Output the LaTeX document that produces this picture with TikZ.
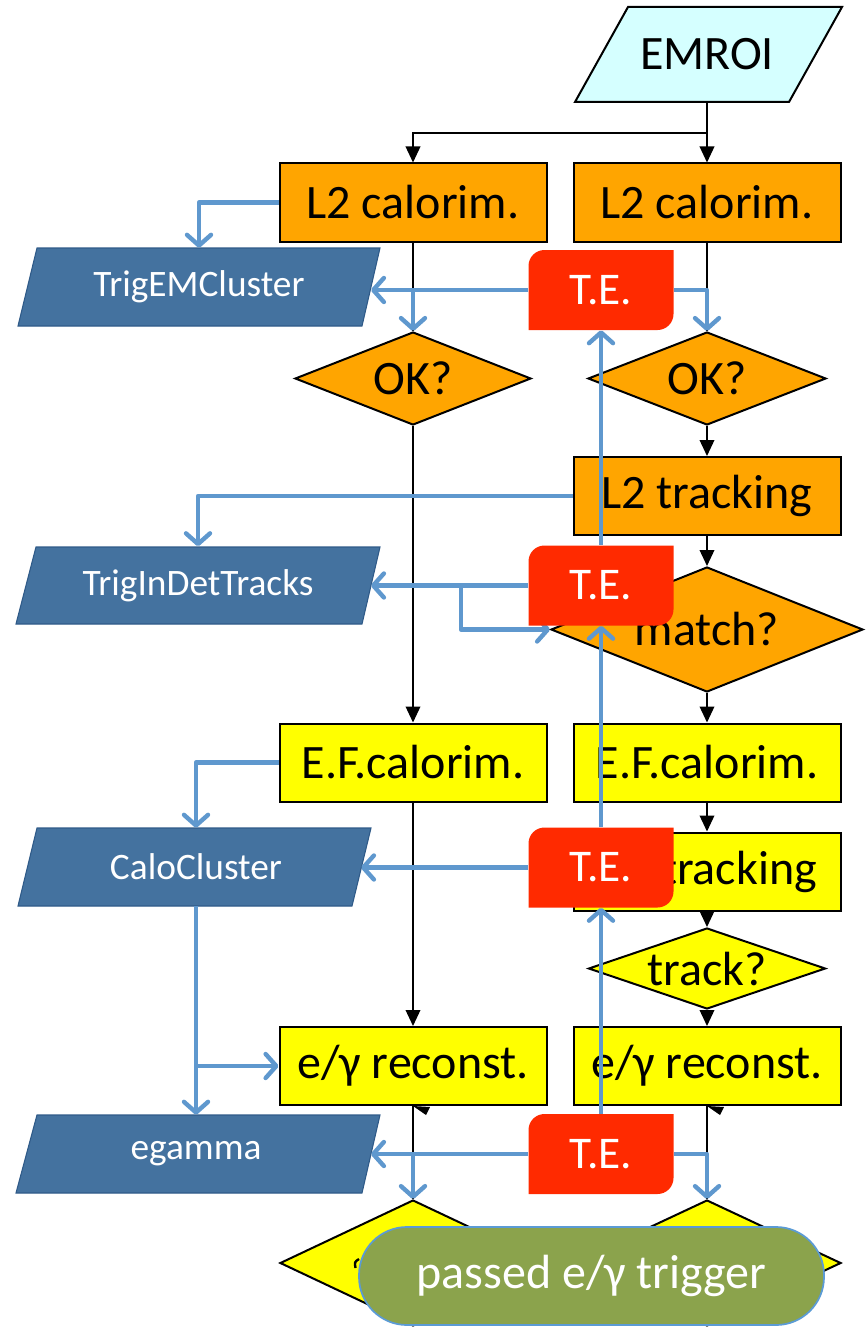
\documentclass[tikz,border=0pt]{standalone}
\usepackage{fontspec}
\setmainfont{Carlito}
\usetikzlibrary{shapes.geometric,arrows.meta}
\definecolor{emroic}{HTML}{D5FFFF}
\definecolor{orng}{HTML}{FFA500}
\definecolor{yllw}{HTML}{FFFF00}
\definecolor{dblue}{HTML}{44729F}
\definecolor{dbluel}{HTML}{2F5A88}
\definecolor{tered}{HTML}{FF2A00}
\definecolor{ablue}{HTML}{5F98CE}
\definecolor{pgreen}{HTML}{8BA34C}
\definecolor{pborder}{HTML}{5B9BD5}
\pgfdeclarelayer{lines}
\pgfdeclarelayer{shapes}
\pgfdeclarelayer{blue}
\pgfsetlayers{lines,shapes,blue,main}
\begin{document}
\begin{tikzpicture}[x=0.75pt,y=-0.75pt,
  bigfont/.style={font=\fontsize{36}{40}\selectfont},
  blk/.style={draw=black,line width=1.1pt,-{Triangle[length=12pt,width=11pt]}},
  blkline/.style={draw=black,line width=1.1pt},
  blu/.style={draw=ablue,line width=3.3pt,line join=round,-{Straight Barb[length=8pt,width=18pt,line cap=round,line join=round]}},
  procbox/.style={draw=black,line width=1.5pt,minimum width=200.25pt,minimum height=58.5pt,inner sep=0pt,bigfont},
  orangebox/.style={procbox,fill=orng},
  yellowbox/.style={procbox,fill=yllw},
  dec/.style={diamond,aspect=3,draw=black,line width=1.5pt,inner sep=0pt,bigfont},
  datashape/.style={fill=dblue,draw=dbluel,line width=0.8pt},
  datatext/.style={minimum height=58.5pt,inner sep=0pt,text=white,font=\fontsize{28}{32}\selectfont},
  tebox/.style={minimum width=108.75pt,minimum height=60pt,inner sep=0pt,text=white,font=\fontsize{34}{38}\selectfont,
    path picture={\fill[tered] (path picture bounding box.south west) -- ([yshift=-12pt]path picture bounding box.north west) arc[start angle=180,end angle=90,radius=12pt] -- (path picture bounding box.north east) -- ([yshift=12pt]path picture bounding box.south east) arc[start angle=0,end angle=-90,radius=12pt] -- cycle;}},
  pill/.style={rectangle,rounded corners=36pt,fill=pgreen,draw=pborder,line width=1.3pt,minimum width=348.75pt,minimum height=73.5pt,inner sep=0pt,text=white,bigfont}
]
\useasboundingbox (0,0) rectangle (866,1327);

% ---------- shapes ----------
\begin{pgfonlayer}{shapes}
\path[fill=emroic,draw=black,line width=1.5pt] (575,102) -- (628,7) -- (842,7) -- (789,102) -- cycle;
\node[minimum width=150pt,minimum height=71.25pt,inner sep=0pt,bigfont] (emroi) at (707,54.5) {EMROI};

\node[orangebox] (L2calL) at (413,202.5) {L2 calorim.};
\node[orangebox] (L2calR) at (707,202.5) {L2 calorim.};
\node[dec,fill=orng,minimum width=177pt,minimum height=69.75pt] (OKL) at (413,378.5) {OK?};
\node[dec,fill=orng,minimum width=178.5pt,minimum height=69.75pt] (OKR) at (707,378.5) {OK?};
\node[orangebox] (L2track) at (707,496) {L2 tracking};
\node[dec,fill=orng,minimum width=234pt,minimum height=93.75pt] (match) at (707,629.5) {match?};
\node[yellowbox] (EFcalL) at (413,762.5) {E.F.calorim.};
\node[yellowbox] (EFcalR) at (707,762.5) {E.F.calorim.};
\node[yellowbox] (EFtrack) at (707,871.5) {E.F.tracking};
\node[dec,fill=yllw,minimum width=177.75pt,minimum height=60.75pt] (track) at (707,968.5) {track?};
\node[yellowbox] (egL) at (413,1066) {e/γ reconst.};
\node[yellowbox] (egR) at (707,1066) {e/γ reconst.};
\node[dec,fill=yllw,minimum width=199.5pt,minimum height=94.5pt] (botL) at (413,1263) {};
\node[dec,fill=yllw,minimum width=201pt,minimum height=94.5pt] (botR) at (707,1263) {};

\path[datashape] (18,326) -- (37,248) -- (380,248) -- (362,326) -- cycle;
\node[datatext] (tec) at (199,287) {TrigEMCluster};
\path[datashape] (16,624) -- (36,547) -- (380,547) -- (362,624) -- cycle;
\node[datatext] (tid) at (198,585.5) {TrigInDetTracks};
\path[datashape] (18,906) -- (37,828) -- (371,828) -- (352,906) -- cycle;
\node[datatext] (calo) at (196,867) {CaloCluster};
\path[datashape] (16,1193) -- (37,1115) -- (380,1115) -- (362,1193) -- cycle;
\node[datatext] (egam) at (196,1154) {egamma};
\end{pgfonlayer}

% ---------- trigger elements and result ----------
\node[tebox] (te1) at (601,290) {T.E.};
\node[tebox] (te2) at (601,585.5) {T.E.};
\node[tebox] (te3) at (601,867.5) {T.E.};
\node[tebox] (te4) at (601,1154) {T.E.};
\node[pill] (pass) at (591.5,1276) {passed e/γ trigger};

\coordinate (split) at (707,133);
\coordinate (tecR) at (371,290);
\coordinate (tidR) at (371,585.5);
\coordinate (caloR) at (361,867.5);
\coordinate (egamR) at (371,1154);
\coordinate (br2a) at (461,585.5);
\coordinate (br2b) at (461,629.5);

% ---------- black control flow ----------
\begin{pgfonlayer}{lines}
\draw[blk] (emroi.south) -- (L2calR.north);
\draw[blk] (split) -| (L2calL.north);
\draw[blkline] (L2calL.south) -- (OKL.north);
\draw[blkline] (L2calR.south) -- (OKR.north);
\draw[blk] (OKL.south) -- (EFcalL.north);
\draw[blk] (OKR.south) -- (L2track.north);
\draw[blk] (L2track.south) -- (match.north);
\draw[blk] (match.south) -- (EFcalR.north);
\draw[blk] (EFcalL.south) -- (egL.north);
\draw[blk] (EFcalR.south) -- (EFtrack.north);
\draw[blk] (EFtrack.south) -- (track.north);
\draw[blk] (track.south) -- (egR.north);
\draw[blkline] (egL.south) -- (botL.north);
\draw[blkline] (egR.south) -- (botR.north);
\end{pgfonlayer}

% ---------- blue data flow ----------
\begin{pgfonlayer}{blue}
\draw[blu] (L2calL.west) -| (tec.north);
\draw[blu] (te1.west) -- (tecR);
\draw[blu] (OKL.north |- te1.west) -- (OKL.north);
\draw[blu] (te1.east) -| (OKR.north);
\draw[blu] (L2track.west) -| (tid.north);
\draw[blu] (te2.west) -- (tidR);
\draw[blu] (br2a) -- (br2b) -- (match.west);
\draw[blu] (EFcalL.west) -| (calo.north);
\draw[blu] (te3.west) -- (caloR);
\draw[blu] (calo.south) |- (egL.west);
\draw[blu] (calo.south) -- (egam.north);
\draw[blu] (te4.west) -- (egamR);
\draw[blu] (botL.north |- te4.west) -- (botL.north);
\draw[blu] (te4.east) -| (botR.north);
\draw[blu] (te4.north) -- (te3.south);
\draw[blu] (te3.north) -- (te2.south);
\draw[blu] (te2.north) -- (te1.south);
\end{pgfonlayer}

% ---------- small visible fragments ----------
\fill (egL.south) -- ++(17,1) -- ++(-4,8) -- cycle;
\fill (egR.south) -- ++(17,1) -- ++(-4,8) -- cycle;
\draw[line width=1.8pt] (355.5,1268) .. controls (354.5,1262) .. (359,1259);
\end{tikzpicture}
\end{document}
